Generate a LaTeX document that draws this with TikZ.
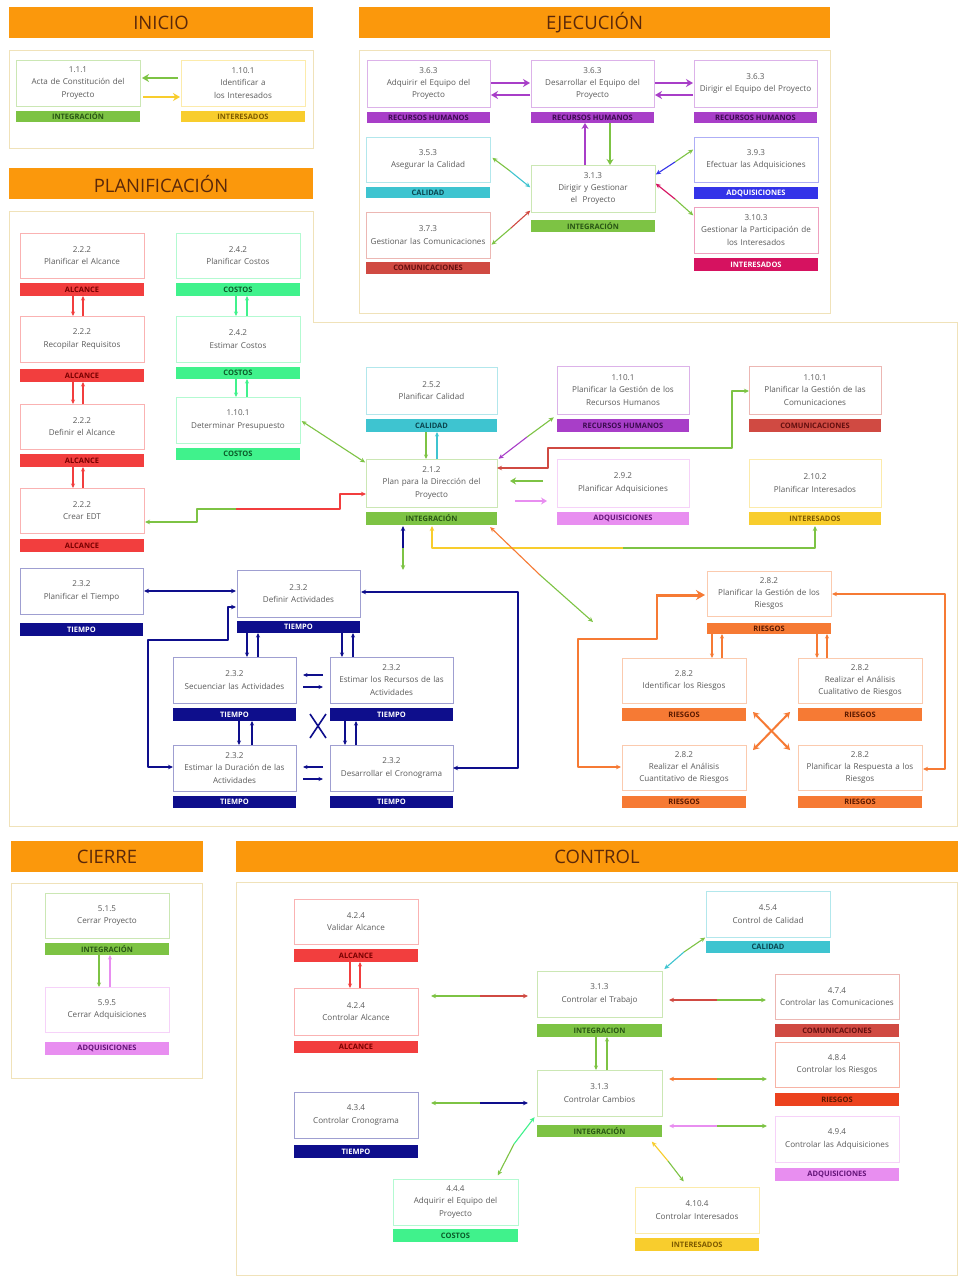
\documentclass[tikz,border=0pt]{standalone}
\usepackage{fontspec}
\setmainfont{Open Sans}
\usetikzlibrary{arrows.meta,calc}
\definecolor{cHdr}{RGB}{251,152,12}
\definecolor{hdrT}{RGB}{90,40,10}
\definecolor{cFrm}{RGB}{240,226,185}
\definecolor{txt}{RGB}{90,90,90}
\definecolor{cInt}{RGB}{125,195,68}
\definecolor{cIntT}{RGB}{40,85,20}
\definecolor{cYel}{RGB}{248,205,45}
\definecolor{cYelT}{RGB}{125,90,0}
\definecolor{cRH}{RGB}{168,62,200}
\definecolor{cRHT}{RGB}{60,10,80}
\definecolor{cCal}{RGB}{62,196,208}
\definecolor{cCalT}{RGB}{10,70,80}
\definecolor{cCom}{RGB}{208,74,66}
\definecolor{cComT}{RGB}{100,15,15}
\definecolor{cAdqB}{RGB}{52,52,232}
\definecolor{cCrim}{RGB}{214,18,96}
\definecolor{cAlc}{RGB}{242,62,62}
\definecolor{cAlcT}{RGB}{120,0,0}
\definecolor{cCos}{RGB}{64,242,140}
\definecolor{cCosT}{RGB}{10,90,40}
\definecolor{cPink}{RGB}{232,142,240}
\definecolor{cPinkT}{RGB}{100,20,120}
\definecolor{cTim}{RGB}{14,14,140}
\definecolor{cRie}{RGB}{246,122,52}
\definecolor{cRieT}{RGB}{90,25,0}
\definecolor{cRie2}{RGB}{236,66,30}
\newcommand\mkbox[7]{%
  \pgfmathsetmacro\bw{#4-#2}\pgfmathsetmacro\bh{#5-#3}\pgfmathsetmacro\tw{#4-#2-3}%
  \node[pbox, draw=#6!40, minimum width=\bw pt, minimum height=\bh pt, text width=\tw pt] (#1) at ({(#2+#4)/2},{(#3+#5)/2}) {#7};}
\newcommand\mkband[7]{%
  \pgfmathsetmacro\bw{#4-#2}\pgfmathsetmacro\bh{#5-#3}%
  \node[pband, #6, minimum width=\bw pt, minimum height=\bh pt] (#1) at ({(#2+#4)/2},{(#3+#5)/2}) {#7};}
\newcommand\mkhdr[6]{%
  \pgfmathsetmacro\bw{#4-#2}\pgfmathsetmacro\bh{#5-#3}%
  \node[hdrs, minimum width=\bw pt, minimum height=\bh pt] (#1) at ({(#2+#4)/2},{(#3+#5)/2}) {#6};}
\newcommand\mkfrm[5]{%
  \pgfmathsetmacro\bw{#4-#2}\pgfmathsetmacro\bh{#5-#3}%
  \node[frm, minimum width=\bw pt, minimum height=\bh pt] (#1) at ({(#2+#4)/2},{(#3+#5)/2}) {};}
% two-colour double arrow: start, mid, end, colA, colB, shorten start, shorten end
\newcommand\bic[7]{\draw[conn,#4,<-,shorten <=#6] #1 -- #2; \draw[conn,#5,->,shorten >=#7] #2 -- #3;}
% band -> box down, box -> band up
\newcommand\ud[6]{\draw[med,#5] (#1.south -| #3,0) -- (#2.north -| #3,0); \draw[med,#6] (#2.north -| #4,0) -- (#1.south -| #4,0);}
\begin{document}
\begin{tikzpicture}[x=1pt,y=-1pt,
  pbox/.style={draw, line width=0.7pt, fill=white, align=center, inner sep=1pt, outer sep=0pt, font=\fontsize{8.1}{12.3}\selectfont, text=txt},
  pband/.style={inner sep=0pt, outer sep=0pt, font=\fontsize{7.5}{8}\selectfont\bfseries},
  hdrs/.style={fill=cHdr, text=hdrT, font=\fontsize{18.5}{20}\selectfont, inner sep=0pt, outer sep=0pt},
  frm/.style={draw=cFrm, line width=1pt, inner sep=0pt, outer sep=0pt},
  conn/.style={line width=1.1pt, line join=round},
  thk/.style={line width=2.6pt, -{Stealth[length=7pt,width=8pt]}},
  mid2/.style={line width=2.2pt, -{Stealth[length=6pt,width=7pt]}},
  med/.style={line width=1.3pt, -{Stealth[length=4.5pt,width=4pt]}},
  >={Stealth[length=5pt,width=4.5pt]},
  bInt/.style={fill=cInt,text=cIntT}, bYel/.style={fill=cYel,text=cYelT},
  bRH/.style={fill=cRH,text=cRHT}, bCal/.style={fill=cCal,text=cCalT},
  bCom/.style={fill=cCom,text=cComT}, bAdqB/.style={fill=cAdqB,text=white},
  bCrim/.style={fill=cCrim,text=white}, bAlc/.style={fill=cAlc,text=cAlcT},
  bCos/.style={fill=cCos,text=cCosT}, bPink/.style={fill=cPink,text=cPinkT},
  bTim/.style={fill=cTim,text=white}, bRie/.style={fill=cRie,text=cRieT},
  bRie2/.style={fill=cRie2,text=cRieT}]
\useasboundingbox[fill=white] (0,0) rectangle (958,1277);

% ================= INICIO =================
\mkhdr{h1}{9}{7}{313}{38}{INICIO}
\mkfrm{f1}{9}{50}{313}{148}
\mkbox{acta}{16}{60}{140}{106}{cInt}{1.1.1\\Acta de Constitución del\\Proyecto}
\mkband{actab}{16}{111}{140}{122}{bInt}{INTEGRACIÓN}
\mkbox{iden}{181}{60}{305}{106}{cYel}{1.10.1\\Identificar a\\los Interesados}
\mkband{idenb}{181}{111}{305}{122}{bYel}{INTERESADOS}
\draw[thk,cInt,shorten <=3pt,shorten >=2pt] (iden.west |- 0,78) -- (acta.east |- 0,78);
\draw[thk,cYel,shorten <=3pt,shorten >=1pt] (acta.east |- 0,97) -- (iden.west |- 0,97);

% ================= EJECUCION =================
\mkhdr{h2}{359}{7}{830}{38}{EJECUCIÓN}
\mkfrm{f2}{359}{50}{830}{313}
\mkbox{adq}{367}{60}{490}{107}{cRH}{3.6.3\\Adquirir el Equipo del\\Proyecto}
\mkband{adqb}{367}{112}{490}{123}{bRH}{RECURSOS HUMANOS}
\mkbox{des}{531}{60}{654}{107}{cRH}{3.6.3\\Desarrollar el Equipo del\\Proyecto}
\mkband{desb}{531}{112}{654}{123}{bRH}{RECURSOS HUMANOS}
\mkbox{dir}{694}{60}{817}{107}{cRH}{3.6.3\\Dirigir el Equipo del Proyecto}
\mkband{dirb}{694}{112}{817}{123}{bRH}{RECURSOS HUMANOS}
\mkbox{ase}{366}{137}{490}{182}{cCal}{3.5.3\\Asegurar la Calidad}
\mkband{aseb}{366}{187}{490}{198}{bCal}{CALIDAD}
\mkbox{gcom}{366}{212}{490}{258}{cCom}{3.7.3\\Gestionar las Comunicaciones}
\mkband{gcomb}{366}{262}{490}{274}{bCom}{COMUNICACIONES}
\mkbox{dg}{531}{165}{655}{212}{cInt}{3.1.3\\Dirigir y Gestionar\\el~ Proyecto}
\mkband{dgb}{531}{220}{655}{232}{bInt}{INTEGRACIÓN}
\mkbox{efe}{694}{137}{818}{182}{cAdqB}{3.9.3\\Efectuar las Adquisiciones}
\mkband{efeb}{694}{187}{818}{199}{bAdqB}{ADQUISICIONES}
\mkbox{gpar}{694}{207}{818}{253}{cCrim}{3.10.3\\Gestionar la Participación de\\los Interesados}
\mkband{gparb}{694}{258}{818}{271}{bCrim}{INTERESADOS}
\draw[thk,cRH,shorten <=1pt,shorten >=1pt] (adq.east |- 0,83) -- (des.west |- 0,83);
\draw[thk,cRH,shorten <=1pt,shorten >=1pt] (des.west |- 0,95) -- (adq.east |- 0,95);
\draw[thk,cRH,shorten <=1pt,shorten >=1pt] (des.east |- 0,83) -- (dir.west |- 0,83);
\draw[thk,cRH,shorten <=1pt,shorten >=1pt] (dir.west |- 0,95) -- (des.east |- 0,95);
\draw[mid2,cRH] (dg.north -| 585,0) -- (desb.south -| 585,0);
\draw[mid2,cInt] (desb.south -| 610,0) -- (dg.north -| 610,0);
\bic{(ase.east |- 0,156)}{(510,171)}{(dg.west |- 0,188)}{cInt}{cCal}{3pt}{1pt}
\bic{(gcom.east |- 0,246)}{(511,228)}{(dg.west |- 0,210)}{cInt}{cCom}{2pt}{1pt}
\bic{(efe.west |- 0,149)}{(675,162)}{(dg.east |- 0,175)}{cInt}{cAdqB}{1pt}{1pt}
\bic{(gpar.west |- 0,216)}{(675,199)}{(dg.east |- 0,183)}{cInt}{cCrim}{1pt}{1pt}

% ================= PLANIFICACION =================
\mkhdr{h3}{9}{168}{313}{199}{PLANIFICACIÓN}
\draw[draw=cFrm, line width=1pt] (9,211) -- (313,211) -- (313,322) -- (957.5,322) -- (957.5,826) -- (9,826) -- cycle;
\mkbox{pal}{20}{233}{144}{278}{cAlc}{2.2.2\\Planificar el Alcance}
\mkband{palb}{20}{283}{144}{296}{bAlc}{ALCANCE}
\mkbox{rreq}{20}{316}{144}{362}{cAlc}{2.2.2\\Recopilar Requisitos}
\mkband{rreqb}{20}{369}{144}{382}{bAlc}{ALCANCE}
\mkbox{dal}{20}{404}{144}{449}{cAlc}{2.2.2\\Definir el Alcance}
\mkband{dalb}{20}{454}{144}{467}{bAlc}{ALCANCE}
\mkbox{edt}{20}{488}{144}{533}{cAlc}{2.2.2\\Crear EDT}
\mkband{edtb}{20}{539}{144}{552}{bAlc}{ALCANCE}
\ud{palb}{rreq}{73}{83}{cAlc}{cAlc}
\ud{rreqb}{dal}{73}{83}{cAlc}{cAlc}
\ud{dalb}{edt}{73}{83}{cAlc}{cAlc}
\mkbox{pco}{176}{233}{300}{278}{cCos}{2.4.2\\Planificar Costos}
\mkband{pcob}{176}{283}{300}{296}{bCos}{COSTOS}
\mkbox{eco}{176}{316}{300}{362}{cCos}{2.4.2\\Estimar Costos}
\mkband{ecob}{176}{367}{300}{379}{bCos}{COSTOS}
\mkbox{dpr}{176}{397}{300}{443}{cCos}{1.10.1\\Determinar Presupuesto}
\mkband{dprb}{176}{448}{300}{460}{bCos}{COSTOS}
\ud{pcob}{eco}{236}{247}{cCos}{cCos}
\ud{ecob}{dpr}{236}{247}{cCos}{cCos}
\mkbox{pcal}{366}{367}{497}{414}{cCal}{2.5.2\\Planificar Calidad}
\mkband{pcalb}{366}{419}{497}{432}{bCal}{CALIDAD}
\mkbox{plan}{366}{459}{497}{507}{cInt}{2.1.2\\Plan para la Dirección del\\Proyecto}
\mkband{planb}{366}{512}{497}{525}{bInt}{INTEGRACIÓN}
\ud{pcalb}{plan}{426}{437}{cInt}{cCal}
\mkbox{prh}{557}{366}{689}{414}{cRH}{1.10.1\\Planificar la Gestión de los\\Recursos Humanos}
\mkband{prhb}{557}{419}{689}{432}{bRH}{RECURSOS HUMANOS}
\mkbox{pcom}{749}{366}{881}{414}{cCom}{1.10.1\\Planificar la Gestión de las\\Comunicaciones}
\mkband{pcomb}{749}{419}{881}{432}{bCom}{COMUNICACIONES}
\mkbox{padq}{557}{459}{689}{507}{cPink}{2.9.2\\Planificar Adquisiciones}
\mkband{padqb}{557}{512}{689}{525}{bPink}{ADQUISICIONES}
\mkbox{pint}{749}{459}{881}{507}{cYel}{2.10.2\\Planificar Interesados}
\mkband{pintb}{749}{512}{881}{525}{bYel}{INTERESADOS}
% connectors around the plan
\draw[conn,cInt,<->,shorten <=2pt,shorten >=1pt] (dpr.east |- 0,420) -- (plan.west |- 0,463);
\draw[conn,cInt,<-,shorten <=1pt] (edt.east |- 0,522) -- (197,522) -- (197,509) -- (236,509);
\draw[conn,cAlc,->] (236,509) -- (340,509) -- (340,494) -- (plan.west |- 0,494);
\bic{(plan.east |- 0,460)}{(527,437)}{(prh.west |- 0,415)}{cRH}{cInt}{2pt}{4pt}
\draw[conn,cCom,<-] (plan.east |- 0,468) -- (548,468) -- (548,448) -- (620,448);
\draw[conn,cInt,->] (620,448) -- (732,448) -- (732,391) -- (pcom.west |- 0,391);
\draw[mid2,cInt,shorten <=14pt,shorten >=13pt] (padq.west |- 0,481) -- (plan.east |- 0,481);
\draw[mid2,cPink,shorten <=18pt,shorten >=10pt] (plan.east |- 0,501) -- (padq.west |- 0,501);
\draw[conn,cYel,<-,shorten <=1pt] (planb.south -| 432,0) -- (432,548) -- (623,548);
\draw[conn,cInt,->,shorten >=1pt] (623,548) -- (815,548) -- (pintb.south -| 815,0);
\coordinate (fd) at (403,570);
\draw[conn,cTim,<-,shorten <=1pt] (planb.south -| 403,0) -- (403,548);
\draw[conn,cInt,->] (403,548) -- (fd);
\coordinate (fg) at (593,622);
\bic{(planb.south -| 488,0)}{(540,575)}{(fg)}{cRie}{cInt}{3pt}{0pt}

% Tiempo
\mkbox{ptm}{20}{568}{143}{614}{cTim}{2.3.2\\Planificar el Tiempo}
\mkband{ptmb}{20}{623}{143}{636}{bTim}{TIEMPO}
\mkbox{def}{237}{570}{360}{617}{cTim}{2.3.2\\Definir Actividades}
\mkband{defb}{237}{621}{360}{633}{bTim}{TIEMPO}
\mkbox{sec}{173}{657}{296}{703}{cTim}{2.3.2\\Secuenciar las Actividades}
\mkband{secb}{173}{708}{296}{721}{bTim}{TIEMPO}
\mkbox{erec}{330}{657}{453}{703}{cTim}{2.3.2\\Estimar los Recursos de las\\Actividades}
\mkband{erecb}{330}{708}{453}{721}{bTim}{TIEMPO}
\mkbox{dur}{173}{745}{296}{791}{cTim}{2.3.2\\Estimar la Duración de las\\Actividades}
\mkband{durb}{173}{796}{296}{808}{bTim}{TIEMPO}
\mkbox{cro}{330}{745}{453}{791}{cTim}{2.3.2\\Desarrollar el Cronograma}
\mkband{crob}{330}{796}{453}{808}{bTim}{TIEMPO}
\begin{scope}[conn/.append style={line width=1.5pt}]
\draw[conn,cTim,<->,shorten <=1pt,shorten >=1pt] (ptm.east |- 0,591) -- (def.west |- 0,591);
\draw[conn,cTim,<->,shorten <=1pt] (def.west |- 0,607) -- (228,607) -- (228,640) -- (148,640) -- (148,767) -- (dur.west |- 0,767);
\draw[conn,cTim,<->,shorten <=1pt] (def.east |- 0,592) -- (518,592) -- (518,768) -- (cro.east |- 0,768);
\end{scope}
\ud{defb}{sec}{247}{258}{cTim}{cTim}
\ud{defb}{erec}{342}{353}{cTim}{cTim}
\ud{secb}{dur}{239}{252}{cTim}{cTim}
\ud{erecb}{cro}{345}{356}{cTim}{cTim}
\draw[med,cTim,shorten <=7pt,shorten >=7pt] (erec.west |- 0,675) -- (sec.east |- 0,675);
\draw[med,cTim,shorten <=7pt,shorten >=7pt] (sec.east |- 0,687) -- (erec.west |- 0,687);
\draw[med,cTim,shorten <=7pt,shorten >=7pt] (cro.west |- 0,767) -- (dur.east |- 0,767);
\draw[med,cTim,shorten <=7pt,shorten >=7pt] (dur.east |- 0,779) -- (cro.west |- 0,779);
\coordinate (tx1) at (310,714); \coordinate (tx2) at (326,738);
\coordinate (tx3) at (310,738); \coordinate (tx4) at (326,714);
\draw[cTim,line width=1.6pt] (tx1) -- (tx2) (tx3) -- (tx4);

% Riesgos
\mkbox{pgr}{707}{571}{831}{616}{cRie}{2.8.2\\Planificar la Gestión de los\\Riesgos}
\mkband{pgrb}{707}{623}{831}{634}{bRie}{RIESGOS}
\mkbox{idr}{622}{658}{746}{703}{cRie}{2.8.2\\Identificar los Riesgos}
\mkband{idrb}{622}{708}{746}{721}{bRie}{RIESGOS}
\mkbox{cual}{798}{658}{922}{703}{cRie}{2.8.2\\Realizar el Análisis\\Cualitativo de Riesgos}
\mkband{cualb}{798}{708}{922}{721}{bRie}{RIESGOS}
\mkbox{cuan}{622}{745}{746}{790}{cRie}{2.8.2\\Realizar el Análisis\\Cuantitativo de Riesgos}
\mkband{cuanb}{622}{796}{746}{808}{bRie}{RIESGOS}
\mkbox{resp}{798}{745}{922}{790}{cRie}{2.8.2\\Planificar la Respuesta a los\\Riesgos}
\mkband{respb}{798}{796}{922}{808}{bRie}{RIESGOS}
\draw[conn,cRie,<-,line width=1.5pt,shorten <=1pt] (cuan.west |- 0,767) -- (578,767) -- (578,639) -- (657,639) -- (657,595) -- (670,595);
\draw[cRie,line width=3pt,-{Stealth[length=9pt,width=10pt]},shorten >=2pt] (656,595) -- (pgr.west |- 0,595);
\draw[conn,cRie,<->,line width=1.5pt,shorten <=1pt,shorten >=1pt] (pgr.east |- 0,594) -- (945,594) -- (945,769) -- (resp.east |- 0,769);
\ud{pgrb}{idr}{712}{722}{cRie}{cRie}
\ud{pgrb}{cual}{817}{827}{cRie}{cRie}
\coordinate (rx1) at (753,712); \coordinate (rx2) at (790,750);
\coordinate (rx3) at (753,750); \coordinate (rx4) at (790,712);
\draw[cRie,line width=2pt,{Stealth[length=6pt,width=7pt]}-{Stealth[length=6pt,width=7pt]}] (rx1) -- (rx2);
\draw[cRie,line width=2pt,{Stealth[length=6pt,width=7pt]}-{Stealth[length=6pt,width=7pt]}] (rx3) -- (rx4);

% ================= CIERRE =================
\mkhdr{h4}{11}{841}{203}{872}{CIERRE}
\mkfrm{f4}{11}{883}{202}{1078}
\mkbox{cpr}{45}{893}{169}{938}{cInt}{5.1.5\\Cerrar Proyecto}
\mkband{cprb}{45}{943}{169}{955}{bInt}{INTEGRACIÓN}
\mkbox{cadq}{45}{987}{169}{1032}{cPink}{5.9.5\\Cerrar Adquisiciones}
\mkband{cadqb}{45}{1042}{169}{1055}{bPink}{ADQUISICIONES}
\ud{cprb}{cadq}{99}{110}{cInt}{cPink}

% ================= CONTROL =================
\mkhdr{h5}{236}{841}{958}{872}{CONTROL}
\mkfrm{f5}{236}{882}{957.5}{1275}
\mkbox{val}{294}{899}{418}{944}{cAlc}{4.2.4\\Validar Alcance}
\mkband{valb}{294}{949}{418}{962}{bAlc}{ALCANCE}
\mkbox{cal}{294}{988}{418}{1035}{cAlc}{4.2.4\\Controlar Alcance}
\mkband{calb}{294}{1041}{418}{1053}{bAlc}{ALCANCE}
\ud{valb}{cal}{350}{360}{cAlc}{cAlc}
\mkbox{ccr}{294}{1092}{418}{1138}{cTim}{4.3.4\\Controlar Cronograma}
\mkband{ccrb}{294}{1145}{418}{1158}{bTim}{TIEMPO}
\mkbox{aeq}{393}{1179}{518}{1225}{cCos}{4.4.4\\Adquirir el Equipo del\\Proyecto}
\mkband{aeqb}{393}{1229}{518}{1242}{bCos}{COSTOS}
\mkbox{ccal}{706}{891}{830}{937}{cCal}{4.5.4\\Control de Calidad}
\mkband{ccalb}{706}{941}{830}{953}{bCal}{CALIDAD}
\mkbox{ctr}{537}{971}{662}{1017}{cInt}{3.1.3\\Controlar el Trabajo}
\mkband{ctrb}{537}{1024}{662}{1037}{bInt}{INTEGRACION}
\mkbox{ccam}{537}{1070}{662}{1116}{cInt}{3.1.3\\Controlar Cambios}
\mkband{ccamb}{537}{1125}{662}{1137}{bInt}{INTEGRACIÓN}
\ud{ctrb}{ccam}{596}{607}{cInt}{cInt}
\mkbox{ccom}{775}{974}{899}{1019}{cCom}{4.7.4\\Controlar las Comunicaciones}
\mkband{ccomb}{775}{1024}{899}{1037}{bCom}{COMUNICACIONES}
\mkbox{crie}{775}{1042}{899}{1087}{cRie2}{4.8.4\\Controlar los Riesgos}
\mkband{crieb}{775}{1093}{899}{1106}{bRie2}{RIESGOS}
\mkbox{cadc}{775}{1116}{899}{1162}{cPink}{4.9.4\\Controlar las Adquisiciones}
\mkband{cadcb}{775}{1168}{899}{1181}{bPink}{ADQUISICIONES}
\mkbox{cint}{635}{1187}{759}{1233}{cYel}{4.10.4\\Controlar Interesados}
\mkband{cintb}{635}{1238}{759}{1251}{bYel}{INTERESADOS}
\bic{(cal.east |- 0,996)}{(480,996)}{(ctr.west |- 0,996)}{cInt}{cCom}{13pt}{9pt}
\bic{(ccr.east |- 0,1103)}{(480,1103)}{(ccam.west |- 0,1103)}{cInt}{cTim}{13pt}{9pt}
\bic{(aeq.north -| 496,0)}{(514,1144)}{(ccam.west |- 0,1114)}{cInt}{cCos}{4pt}{4pt}
\bic{(ctr.north east)}{(684,952)}{(ccal.south west)}{cCal}{cInt}{3pt}{1pt}
\bic{(ctr.east |- 0,1000)}{(717,1000)}{(ccom.west |- 0,1000)}{cCom}{cInt}{7pt}{9pt}
\bic{(ccam.east |- 0,1079)}{(717,1079)}{(crie.west |- 0,1079)}{cRie}{cInt}{7pt}{8pt}
\bic{(ccam.east |- 0,1126)}{(717,1126)}{(cadc.west |- 0,1126)}{cPink}{cInt}{7pt}{8pt}
\bic{(ccamb.south -| 648,0)}{(668,1161)}{(cint.north -| 688,0)}{cYel}{cInt}{6pt}{7pt}
\end{tikzpicture}
\end{document}
